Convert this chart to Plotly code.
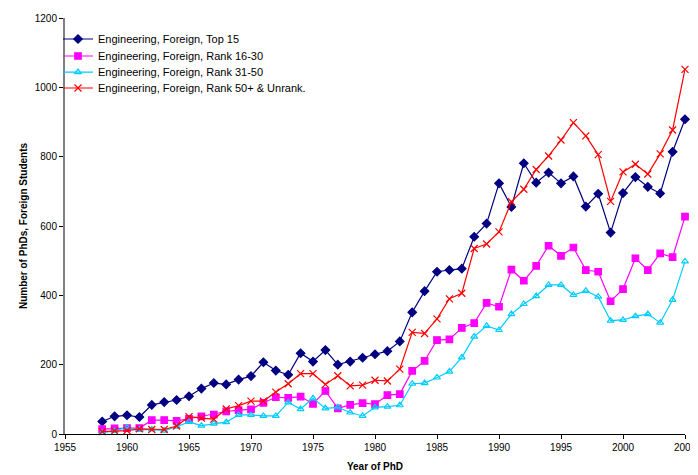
import plotly.graph_objects as go

years = list(range(1958, 2006))

top15 = [36, 51, 54, 49, 84, 92, 98, 109, 131, 147, 143, 157, 167, 207, 183, 171,
         233, 209, 242, 200, 209, 220, 230, 239, 267, 351, 412, 468, 473, 477,
         569, 607, 723, 655, 781, 725, 754, 723, 743, 656, 693, 581, 695, 741,
         713, 694, 814, 908]

rank16_30 = [14, 16, 17, 17, 40, 40, 38, 44, 51, 56, 65, 69, 71, 90, 106, 104,
             108, 87, 124, 74, 84, 89, 86, 112, 115, 182, 211, 271, 273, 306,
             320, 378, 367, 474, 442, 485, 543, 514, 538, 473, 468, 383, 418, 507,
             473, 521, 510, 627]

rank31_50 = [4, 9, 19, 12, 13, 10, 21, 35, 24, 30, 34, 55, 55, 52, 52, 91,
             72, 103, 74, 77, 62, 52, 77, 79, 83, 145, 147, 163, 180, 221,
             281, 312, 300, 346, 375, 398, 430, 430, 401, 413, 396, 327, 329, 340,
             346, 321, 387, 498]

rank50plus = [7, 9, 10, 15, 13, 13, 23, 50, 46, 43, 72, 82, 95, 95, 121, 145,
              174, 174, 143, 168, 139, 141, 155, 153, 187, 293, 290, 332, 390, 406,
              535, 548, 583, 670, 706, 763, 802, 848, 898, 860, 806, 671, 756, 778,
              750, 808, 877, 1052]

series = [
    ("Engineering, Foreign, Top 15", top15, "#000080", "diamond", 6.5),
    ("Engineering, Foreign, Rank 16-30", rank16_30, "#FF00FF", "square", 6.5),
    ("Engineering, Foreign, Rank 31-50", rank31_50, "#00CCFF", "triangle-up-open", 6),
    ("Engineering, Foreign, Rank 50+ & Unrank.", rank50plus, "#FF0000", "x-thin-open", 7),
]

legend_names = ["legend", "legend2", "legend3", "legend4"]
legend_ys = [0.9495, 0.9087, 0.870, 0.8317]

fig = go.Figure()
for (name, vals, color, sym, size), lg in zip(series, legend_names):
    fig.add_trace(go.Scatter(
        x=years, y=vals, name=name, mode="lines+markers",
        line=dict(color=color, width=1.2),
        marker=dict(symbol=sym, size=size, color=color,
                    line=dict(color=color, width=1.2)),
        cliponaxis=False,
        legend=lg,
    ))

legend_common = dict(x=-0.0113, xanchor="left", yanchor="middle",
                     bgcolor="rgba(0,0,0,0)", font=dict(size=11),
                     itemwidth=30)
layout_legends = {}
for lg, ly in zip(legend_names, legend_ys):
    layout_legends[lg] = dict(legend_common, y=ly)

# The page body adds an 8px offset; the figure is sized so that it fits the
# 698x475 window without overflow and the plot area lands at x 65..685, y 18..434.
fig.update_layout(
    width=690, height=467,
    margin=dict(l=57, r=13, t=10, b=41, autoexpand=False),
    paper_bgcolor="white", plot_bgcolor="white",
    font=dict(family="Liberation Sans, Arial, sans-serif", size=10, color="black"),
    showlegend=True,
    xaxis=dict(range=[1955, 2005], dtick=5, tick0=1955, showgrid=False, automargin=False,
               zeroline=False, showline=True, linecolor="black", linewidth=1.3,
               ticks="outside", ticklen=4, tickcolor="black",
               title=dict(text="<b>Year of PhD</b>", font=dict(size=10), standoff=10)),
    yaxis=dict(range=[0, 1200], dtick=200, showgrid=False, zeroline=False, automargin=False,
               showline=True, linecolor="#808080", linewidth=2,
               ticks="outside", ticklen=4, tickcolor="black",
               title=dict(text="<b>Number of PhDs, Foreign Students</b>",
                          font=dict(size=10), standoff=5)),
    **layout_legends,
)

fig.write_html("out.html")
